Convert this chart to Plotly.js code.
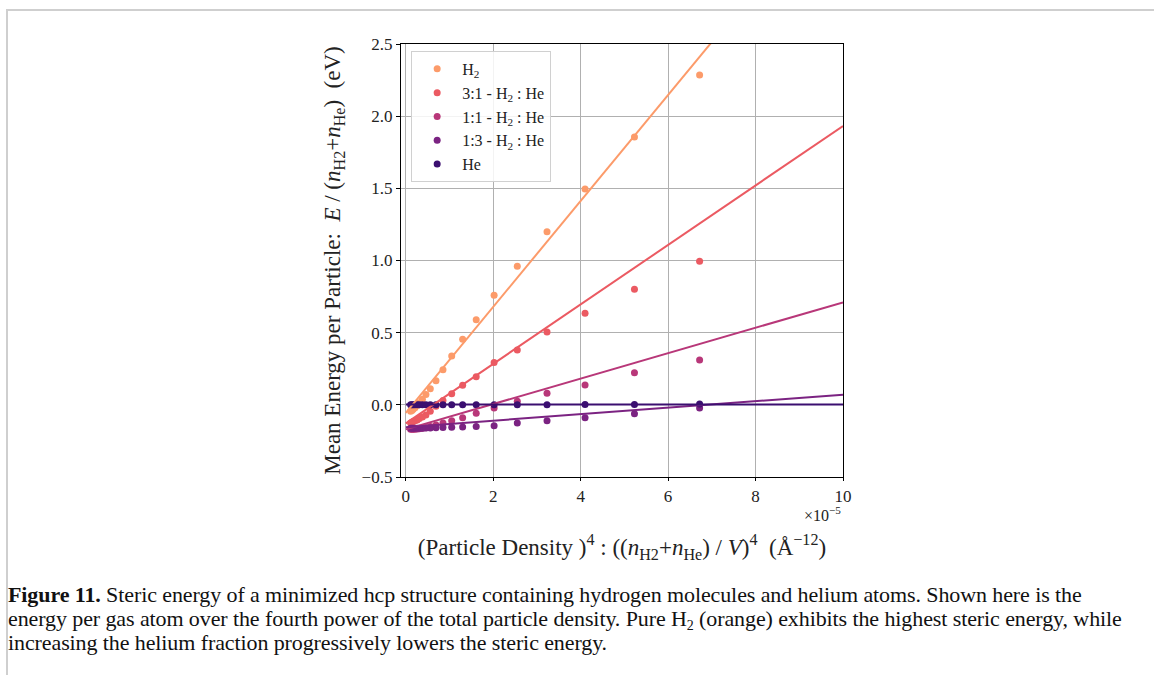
<!DOCTYPE html>
<html>
<head>
<meta charset="utf-8">
<script src="https://cdn.plot.ly/plotly-3.0.1.min.js"></script>
<style>
  body { margin:0; padding:0; background:#fff; width:1154px; height:675px; overflow:hidden; position:relative; }
  #plot { position:absolute; left:0; top:0; width:1154px; height:675px; }
  #frameTop { position:absolute; left:7px; top:9px; width:1147px; height:2px; background:#cfcfcf; }
  #frameLeft { position:absolute; left:6px; top:9px; width:2px; height:666px; background:#cfcfcf; }
  #caption { position:absolute; left:8px; top:583px; width:1144px; font-family:"Liberation Serif", serif; font-size:22px; line-height:24px; color:#111; letter-spacing:-0.1px; }
  #caption sub { font-size:14px; line-height:0; vertical-align:-4px; }
</style>
</head>
<body>
<div id="plot"></div>
<div id="frameTop"></div>
<div id="frameLeft"></div>
<div id="caption"><b>Figure 11.</b> Steric energy of a minimized hcp structure containing hydrogen molecules and helium atoms. Shown here is the<br>energy per gas atom over the fourth power of the total particle density. Pure H<sub>2</sub> (orange) exhibits the highest steric energy, while<br>increasing the helium fraction progressively lowers the steric energy.</div>
<script>
// (Particle density)^4 in units of 1e-5 Å^-12
const density4 = [6.72, 5.23, 4.10, 3.23, 2.55, 2.02, 1.61, 1.30, 1.05, 0.85, 0.69, 0.56, 0.46, 0.38, 0.31, 0.26, 0.21, 0.17, 0.14, 0.11];
const seriesNames = ["H<sub>2</sub>", "3:1 - H<sub>2</sub> : He", "1:1 - H<sub>2</sub> : He", "1:3 - H<sub>2</sub> : He", "He"];
const energyH2   = [2.285, 1.855, 1.495, 1.20, 0.96, 0.76, 0.59, 0.455, 0.338, 0.243, 0.167, 0.112, 0.072, 0.038, 0.015, -0.005, -0.02, -0.03, -0.04, -0.045];
const energy31   = [0.995, 0.80, 0.635, 0.505, 0.38, 0.294, 0.195, 0.135, 0.077, 0.03, -0.01, -0.045, -0.07, -0.085, -0.095, -0.105, -0.11, -0.115, -0.12, -0.125];
const energy11   = [0.31, 0.222, 0.137, 0.08, 0.025, -0.022, -0.058, -0.09, -0.11, -0.125, -0.14, -0.15, -0.158, -0.163, -0.166, -0.168, -0.17, -0.17, -0.17, -0.17];
const energy13   = [-0.022, -0.062, -0.09, -0.11, -0.126, -0.145, -0.15, -0.153, -0.155, -0.157, -0.159, -0.16, -0.161, -0.162, -0.163, -0.163, -0.163, -0.163, -0.163, -0.163];
const energyHe   = [0.005, 0.003, 0.002, 0.001, 0.0, 0.0, 0.0, 0.0, 0.0, 0.0, 0.0, 0.0, 0.0, 0.0, 0.0, 0.0, 0.0, 0.0, 0.0, 0.0];
// linear fits: E = intercept + slope * density4
const fitSlopes     = [0.367, 0.206, 0.088, 0.0225, 0.0];
const fitIntercepts = [-0.055, -0.128, -0.17, -0.155, 0.003];
const fitXRange = [0, 10];
const colors = ["#fc9b6a", "#eb5a62", "#b83779", "#7b2382", "#3b0f70"];

const energies = [energyH2, energy31, energy11, energy13, energyHe];
const serif = "Liberation Serif, DejaVu Serif, serif";
const traces = [];
energies.forEach((ys, i) => {
  traces.push({
    x: density4, y: ys, type: "scatter", mode: "markers", name: seriesNames[i],
    marker: {color: colors[i], size: 7}, showlegend: true, cliponaxis: true
  });
});
energies.forEach((ys, i) => {
  traces.push({
    x: fitXRange, y: fitXRange.map(x => fitIntercepts[i] + fitSlopes[i] * x),
    type: "scatter", mode: "lines", line: {color: colors[i], width: 2},
    showlegend: false, hoverinfo: "skip"
  });
});

const layout = {
  width: 1154, height: 675,
  margin: {l: 401, r: 311, t: 44, b: 198},
  paper_bgcolor: "rgba(0,0,0,0)", plot_bgcolor: "#fff",
  font: {family: serif, color: "#111", size: 16},
  showlegend: true,
  legend: {x: 0.023, y: 0.984, xanchor: "left", yanchor: "top", bgcolor: "rgba(255,255,255,0.85)",
           bordercolor: "#d0d0d0", borderwidth: 1, font: {family: serif, size: 16, color: "#222"},
           tracegroupgap: 2, itemwidth: 40},
  xaxis: {
    range: [-0.11, 10], tickvals: [0, 2, 4, 6, 8, 10], ticktext: ["0","2","4","6","8","10"],
    showgrid: true, gridcolor: "#b0b0b0", gridwidth: 1, zeroline: false,
    showline: true, linecolor: "#000", linewidth: 1.2, mirror: true,
    ticks: "outside", ticklen: 3, tickcolor: "#000", tickfont: {family: serif, size: 17, color: "#222"},
    title: {text: "(Particle Density )<sup>4</sup> : ((<i>n</i><sub>H2</sub>+<i>n</i><sub>He</sub>) / <i>V</i>)<sup>4</sup>  (Å<sup>−12</sup>)",
            font: {family: serif, size: 23, color: "#222"}, standoff: 34}
  },
  yaxis: {
    range: [-0.5, 2.5], tickvals: [-0.5, 0, 0.5, 1, 1.5, 2, 2.5],
    ticktext: ["−0.5","0.0","0.5","1.0","1.5","2.0","2.5"],
    showgrid: true, gridcolor: "#b0b0b0", gridwidth: 1, zeroline: false,
    showline: true, linecolor: "#000", linewidth: 1.2, mirror: true,
    ticks: "outside", ticklen: 4, tickcolor: "#000", tickfont: {family: serif, size: 17, color: "#222"},
    title: {text: "Mean Energy per Particle:  <i>E</i> / (<i>n</i><sub>H2</sub>+<i>n</i><sub>He</sub>)  (eV)",
            font: {family: serif, size: 23, color: "#222"}, standoff: 14}
  },
  annotations: [{
    xref: "paper", yref: "paper", x: 1.0, y: -0.058, xanchor: "right", yanchor: "top",
    text: "×10<sup>−5</sup>", showarrow: false, font: {family: serif, size: 16, color: "#222"}
  }]
};
Plotly.newPlot("plot", traces, layout, {displayModeBar: false, staticPlot: true});
</script>
</body>
</html>
